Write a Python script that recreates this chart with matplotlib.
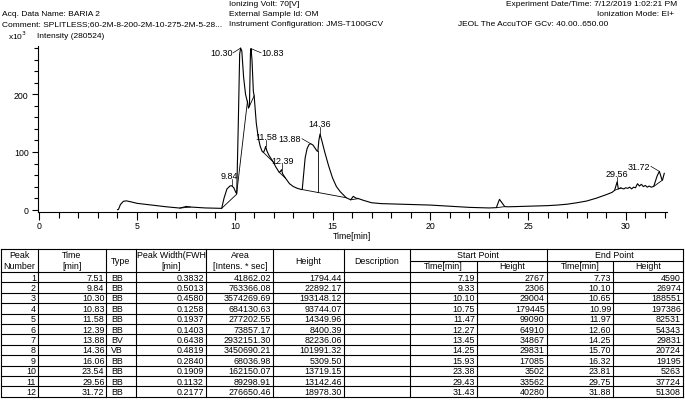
import numpy as np
import matplotlib
matplotlib.use('Agg')
import matplotlib.pyplot as plt
from matplotlib.ticker import MultipleLocator

plt.rcParams['font.family'] = ['Liberation Sans Narrow', 'Liberation Sans', 'DejaVu Sans']

# chromatogram trace (time in min, intensity in x10^3)
trace_time = [4.00, 4.05, 4.15, 4.30, 4.45, 4.70, 5.00, 5.50, 6.00, 6.50, 7.00, 7.19, 7.40, 7.51,
              7.73, 8.00, 8.50, 9.00, 9.33, 9.45, 9.60, 9.75, 9.84, 9.95, 10.05, 10.10, 10.18,
              10.25, 10.30, 10.36, 10.45, 10.55, 10.65, 10.70, 10.75, 10.80, 10.83, 10.88, 10.95,
              10.99, 11.10, 11.20, 11.30, 11.40, 11.47, 11.53, 11.58, 11.64, 11.75, 11.90, 11.97,
              12.10, 12.27, 12.33, 12.39, 12.45, 12.60, 12.80, 13.00, 13.20, 13.40, 13.45, 13.52,
              13.60, 13.70, 13.80, 13.88, 14.00, 14.10, 14.20, 14.25, 14.30, 14.36, 14.45, 14.60,
              14.80, 15.00, 15.20, 15.40, 15.70, 15.93, 16.06, 16.20, 16.32, 16.60, 17.00, 17.50,
              18.00, 19.00, 20.00, 21.00, 22.00, 23.00, 23.38, 23.54, 23.81, 24.00, 24.50, 25.00,
              25.50, 26.00, 26.50, 27.00, 27.50, 28.00, 28.50, 29.00, 29.30, 29.43, 29.56, 29.62,
              29.75, 29.90, 30.00, 30.10, 30.20, 30.30, 30.40, 30.50, 30.60, 30.70, 30.80, 30.90,
              31.00, 31.10, 31.20, 31.30, 31.43, 31.60, 31.72, 31.85, 31.88, 31.97]
trace_int = [0.0, 0.5, 9.0, 14.5, 15.3, 13.5, 11.0, 9.0, 7.0, 5.0, 3.5, 2.8, 4.5, 5.6,
             4.6, 4.0, 3.0, 2.5, 2.3, 20.0, 36.0, 41.0, 41.6, 38.0, 30.0, 28.0, 150.0,
             270.0, 280.1, 275.0, 230.0, 200.0, 186.0, 176.0, 179.4, 270.0, 279.1, 260.0, 205.0,
             197.4, 150.0, 125.0, 110.0, 101.0, 99.1, 104.0, 109.7, 102.0, 94.0, 86.0, 82.5,
             74.0, 64.9, 66.0, 69.4, 62.0, 54.3, 45.0, 40.0, 37.0, 35.0, 34.9, 60.0,
             90.0, 106.0, 113.0, 114.4, 112.0, 107.0, 102.0, 101.0, 120.0, 131.1, 120.0, 100.0,
             76.0, 55.0, 40.0, 31.0, 20.7, 17.1, 23.1, 20.0, 19.2, 16.0, 12.0, 10.5,
             10.0, 9.0, 8.0, 6.0, 4.0, 3.0, 3.5, 17.9, 5.3, 5.0, 5.5, 6.0,
             6.5, 7.0, 8.0, 9.5, 12.0, 15.0, 20.0, 26.0, 30.0, 33.6, 48.3, 36.0,
             37.7, 36.0, 38.0, 37.0, 39.0, 36.0, 39.0, 38.0, 45.0, 41.0, 44.0, 40.0,
             42.0, 39.0, 41.0, 39.0, 40.3, 58.0, 66.4, 52.0, 51.3, 63.0]

# peak table
peak_no = list(range(1, 13))
peak_time = [7.51, 9.84, 10.30, 10.83, 11.58, 12.39, 13.88, 14.36, 16.06, 23.54, 29.56, 31.72]
peak_type = ['BB', 'BB', 'BB', 'BB', 'BB', 'BB', 'BV', 'VB', 'BB', 'BB', 'BB', 'BB']
peak_width = [0.3832, 0.5013, 0.4580, 0.1258, 0.1937, 0.1403, 0.6438, 0.4819, 0.2840, 0.1909, 0.1132, 0.2177]
peak_area = [41862.02, 763366.08, 3574269.69, 684130.63, 277202.55, 73857.17, 2932151.30,
             3450690.21, 68036.98, 162150.07, 89298.91, 276650.46]
peak_height = [1794.44, 22892.17, 193148.12, 93744.07, 14349.96, 8400.39, 82236.06,
               101991.32, 5309.50, 13719.15, 13142.46, 18978.30]
start_time = [7.19, 9.33, 10.10, 10.75, 11.47, 12.27, 13.45, 14.25, 15.93, 23.38, 29.43, 31.43]
start_height = [2767, 2306, 29004, 179445, 99090, 64910, 34867, 29831, 17085, 3502, 33562, 40280]
end_time = [7.73, 10.10, 10.65, 10.99, 11.97, 12.60, 14.25, 15.70, 16.32, 23.81, 29.75, 31.88]
end_height = [4590, 26974, 188551, 197386, 82531, 54343, 29831, 20724, 19195, 5263, 37724, 51308]

W, H = 685, 402
fig = plt.figure(figsize=(W / 100, H / 100), dpi=100)

# ---- chromatogram ----
ax = fig.add_axes([37.7 / W, 1 - 212.7 / H, (667 - 37.7) / W, (212.7 - 47.3) / H])
ax.plot(trace_time, trace_int, color='black', lw=0.8)

# integration baselines and valley drops
for i in range(len(peak_no)):
    ax.plot([start_time[i], end_time[i]], [start_height[i] / 1000, end_height[i] / 1000],
            color='black', lw=0.6)
    if peak_type[i][1] == 'V':
        top = np.interp(end_time[i], trace_time, trace_int)
        ax.plot([end_time[i]] * 2, [end_height[i] / 1000, top], color='black', lw=0.6)

# peak labels: index -> (text x, text y, ha, leader start x, leader start y)
labels = {
    1: (9.72, 59, 'center', 9.84, 54),
    2: (9.88, 272, 'right', 9.92, 272),
    3: (11.38, 272, 'left', 11.34, 272),
    4: (11.60, 127, 'center', 11.58, 121),
    5: (12.42, 86, 'center', 12.39, 80),
    6: (13.40, 123, 'right', 13.44, 123),
    7: (14.33, 149, 'center', 14.36, 143),
    10: (29.56, 63, 'center', 29.56, 57),
    11: (31.25, 75.5, 'right', 31.29, 75),
}
for i, (tx, ty, ha, lx, ly) in labels.items():
    base = np.interp(peak_time[i], [start_time[i], end_time[i]],
                     [start_height[i] / 1000, end_height[i] / 1000])
    apex = base + peak_height[i] / 1000
    ax.plot([lx, peak_time[i]], [ly, apex], color='black', lw=0.5)
    ax.text(tx, ty, f'{peak_time[i]:.2f}', ha=ha, va='center', fontsize=6.5)

ax.set_xlim(-0.082, 32.11)
ax.set_ylim(-3.5, 283.2)
ax.spines['top'].set_visible(False)
ax.spines['right'].set_visible(False)
ax.set_xticks([0, 5, 10, 15, 20, 25, 30])
ax.set_yticks([0, 100, 200])
ax.xaxis.set_minor_locator(MultipleLocator(1))
ax.yaxis.set_minor_locator(MultipleLocator(20))
ax.tick_params(axis='x', which='major', length=6, width=0.8, labelsize=6.3, pad=1)
ax.tick_params(axis='x', which='minor', length=4, width=0.8)
ax.tick_params(axis='y', which='major', length=4, width=0.8, labelsize=6.3, pad=2.5)
ax.tick_params(axis='y', which='minor', length=3, width=0.8)
ax.set_xlabel('Time[min]', fontsize=6.3, labelpad=0.5)

# ---- header + table (pixel coordinates) ----
ov = fig.add_axes([0, 0, 1, 1], facecolor='none')
ov.set_xlim(0, W)
ov.set_ylim(H, 0)
ov.axis('off')

fs = 6.0
ov.text(229, 5, 'Ionizing Volt: 70[V]', fontsize=fs, va='center')
ov.text(677, 5, 'Experiment Date/Time: 7/12/2019 1:02:21 PM', fontsize=fs, va='center', ha='right')
ov.text(2, 14.5, 'Acq. Data Name: BARIA 2', fontsize=fs, va='center')
ov.text(229, 14.5, 'External Sample Id: OM', fontsize=fs, va='center')
ov.text(674, 14.5, 'Ionization Mode: EI+', fontsize=fs, va='center', ha='right')
ov.text(2, 24.5, 'Comment: SPLITLESS;60-2M-8-200-2M-10-275-2M-5-28...', fontsize=fs, va='center')
ov.text(229, 24.5, 'Instrument Configuration: JMS-T100GCV', fontsize=fs, va='center')
ov.text(458, 24.5, 'JEOL The AccuTOF GCv: 40.00..650.00', fontsize=fs, va='center')
ov.text(8, 36, r'x10$^3$', fontsize=fs, va='center')
ov.text(37, 36, 'Intensity (280524)', fontsize=fs, va='center')

# table geometry
cols = [1, 38, 106.5, 136, 206, 273, 344, 410, 476.7, 546.7, 613.3, 683]
top, mid, hb = 250, 261.5, 273
rh = 10.4
bottom = hb + rh * len(peak_no)
lw = 0.8
ov.plot([cols[0], cols[-1]], [top, top], color='black', lw=lw)
ov.plot([cols[7], cols[-1]], [mid, mid], color='black', lw=lw)
for k in range(len(peak_no) + 1):
    y = hb + k * rh
    ov.plot([cols[0], cols[-1]], [y, y], color='black', lw=lw)
for j, x in enumerate(cols):
    y0 = mid if j in (8, 10) else top
    ov.plot([x, x], [y0, bottom], color='black', lw=lw)

tfs = 6.4
hy1, hy2 = 256, 267
hc = (top + hb) / 2
ov.text(19.5, hy1, 'Peak', fontsize=tfs, ha='center', va='center')
ov.text(19.5, hy2, 'Number', fontsize=tfs, ha='center', va='center')
ov.text(72, hy1, 'Time', fontsize=tfs, ha='center', va='center')
ov.text(72, hy2, '[min]', fontsize=tfs, ha='center', va='center')
ov.text(121, hc, 'Type', fontsize=tfs, ha='center', va='center')
ov.text(137, hy1, 'Peak Width(FWH', fontsize=tfs, ha='left', va='center')
ov.text(171, hy2, '[min]', fontsize=tfs, ha='center', va='center')
ov.text(240, hy1, 'Area', fontsize=tfs, ha='center', va='center')
ov.text(240, hy2, '[Intens. * sec]', fontsize=tfs, ha='center', va='center')
ov.text(308.5, hc, 'Height', fontsize=tfs, ha='center', va='center')
ov.text(377, hc, 'Description', fontsize=tfs, ha='center', va='center')
ov.text(478.3, hy1, 'Start Point', fontsize=tfs, ha='center', va='center')
ov.text(443.3, hy2, 'Time[min]', fontsize=tfs, ha='center', va='center')
ov.text(511.7, hy2, 'Height', fontsize=tfs, ha='center', va='center')
ov.text(614.8, hy1, 'End Point', fontsize=tfs, ha='center', va='center')
ov.text(580, hy2, 'Time[min]', fontsize=tfs, ha='center', va='center')
ov.text(648, hy2, 'Height', fontsize=tfs, ha='center', va='center')

for k in range(len(peak_no)):
    y = hb + (k + 0.5) * rh
    cells = [(cols[1], str(peak_no[k])),
             (cols[2], f'{peak_time[k]:.2f}'),
             (cols[4], f'{peak_width[k]:.4f}'),
             (cols[5], f'{peak_area[k]:.2f}'),
             (cols[6], f'{peak_height[k]:.2f}'),
             (cols[8], f'{start_time[k]:.2f}'),
             (cols[9], str(start_height[k])),
             (cols[10], f'{end_time[k]:.2f}'),
             (cols[11], str(end_height[k]))]
    for x, s in cells:
        ov.text(x - 2, y, s, fontsize=tfs, ha='right', va='center')
    ov.text(111, y, peak_type[k], fontsize=tfs, ha='left', va='center')

fig.savefig('out.png', dpi=100)
